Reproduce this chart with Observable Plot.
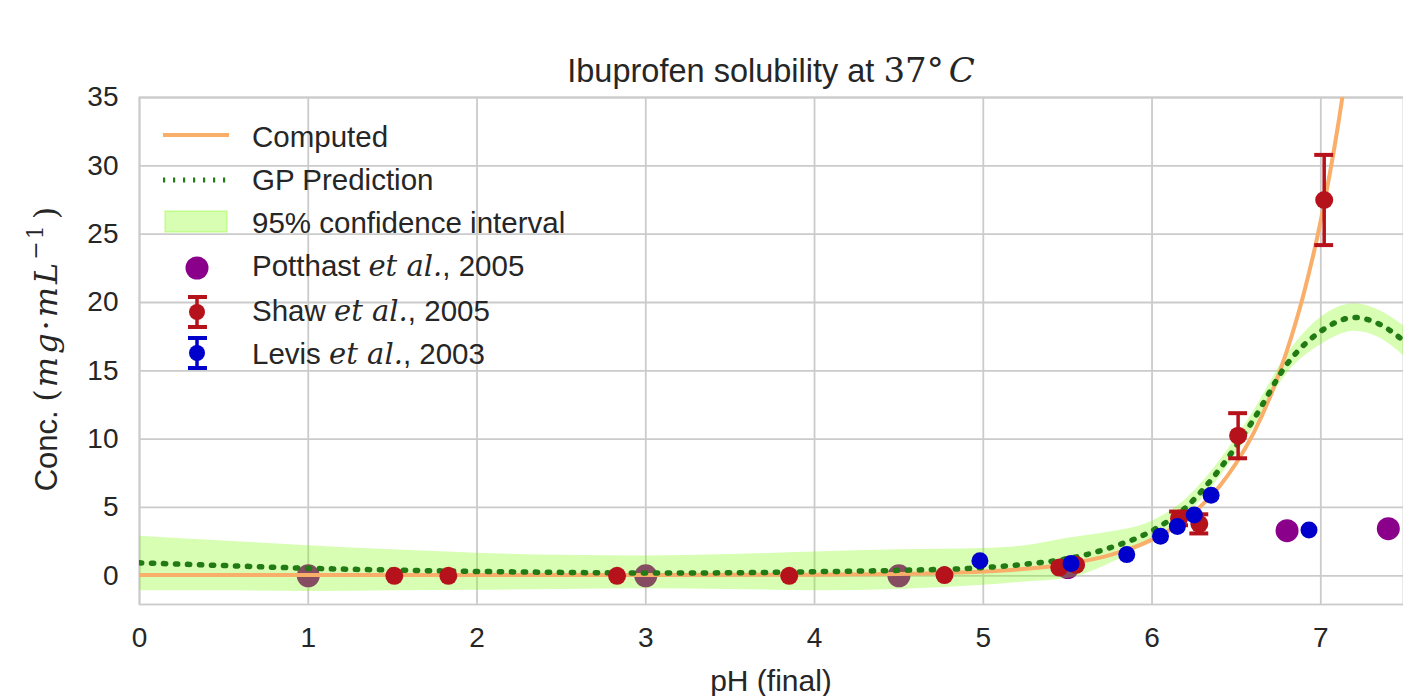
<!DOCTYPE html>
<html>
<head>
<meta charset="utf-8">
<script src="https://cdn.jsdelivr.net/npm/d3@7"></script>
<script src="https://cdn.jsdelivr.net/npm/@observablehq/plot@0.6"></script>
<style>
  html, body { margin: 0; padding: 0; background: #fff; overflow: hidden; }
  #chart { width: 1403px; height: 696px; }
</style>
</head>
<body>
<div id="chart"></div>
<script>
// ---------- data ----------
const xTicks = [0, 1, 2, 3, 4, 5, 6, 7];
const yTicks = [0, 5, 10, 15, 20, 25, 30, 35];
const xDomain = [0, 7.49];
const yDomain = [-2.1, 35];

// Computed solubility curve
const computedPH   = [0, 1, 2, 3, 4, 4.5, 5.0, 5.25, 5.5, 5.75, 6.0, 6.1, 6.2, 6.3, 6.4, 6.5, 6.6, 6.7, 6.8, 6.9, 7.0, 7.1, 7.2];
const computedConc = [0.05, 0.05, 0.05, 0.05, 0.08, 0.13, 0.31, 0.51, 0.87, 1.51, 2.65, 3.32, 4.17, 5.23, 6.56, 8.27, 10.4, 13.1, 16.5, 20.7, 26.0, 32.8, 41.3];

// GP prediction and 95% confidence interval
const gpPH    = [0, 0.5, 1, 1.5, 2, 2.5, 3, 3.5, 4, 4.5, 5, 5.25, 5.5, 5.75, 6.0, 6.2, 6.4, 6.6, 6.8, 7.0, 7.2, 7.35, 7.5];
const gpMean  = [0.95, 0.75, 0.55, 0.42, 0.32, 0.25, 0.2, 0.22, 0.3, 0.4, 0.6, 0.85, 1.25, 2.05, 3.3, 5.0, 7.8, 11.4, 15.5, 17.9, 18.9, 18.4, 17.1];
const gpLower = [-1.1, -1.1, -1.15, -1.1, -1.05, -1.0, -0.95, -1.0, -1.1, -1.0, -0.7, -0.45, -0.2, 0.9, 2.6, 4.4, 7.2, 10.8, 14.8, 16.9, 17.9, 17.4, 16.0];
const gpUpper = [2.9, 2.55, 2.2, 1.9, 1.65, 1.5, 1.45, 1.55, 1.75, 1.9, 2.0, 2.2, 2.75, 3.2, 4.0, 5.6, 8.4, 12.0, 16.2, 18.9, 19.9, 19.4, 18.2];

// Potthast et al., 2005
const potthastPH   = [1.0, 3.0, 4.5, 5.5, 6.8, 7.4];
const potthastConc = [0, 0, 0, 0.6, 3.3, 3.45];

// Shaw et al., 2005 (with error)
const shawPH   = [1.51, 1.83, 2.83, 3.85, 4.77, 5.45, 5.55, 6.16, 6.28, 6.51, 7.02];
const shawConc = [0, 0, 0, 0, 0.05, 0.6, 0.8, 4.2, 3.8, 10.25, 27.5];
const shawErr  = [0, 0, 0, 0, 0, 0, 0, 0.5, 0.7, 1.65, 3.3];

// Levis et al., 2003
const levisPH   = [4.98, 5.52, 5.85, 6.05, 6.15, 6.25, 6.35, 6.93];
const levisConc = [1.1, 0.9, 1.55, 2.9, 3.6, 4.45, 5.9, 3.35];

// ---------- styles ----------
const gridColor = "#cbcbcb";
const orange = "#f9ae6a";
const green = "#217a13";
const bandColor = "#7cfc00";
const purple = "#8b008b";
const red = "#b5121b";
const blue = "#0000cc";
const textColor = "#262626";

// ---------- tables ----------
const computed = computedPH.map((x, i) => ({x, y: computedConc[i]}));
const gp = gpPH.map((x, i) => ({x, m: gpMean[i], lo: gpLower[i], hi: gpUpper[i]}));
const potthast = potthastPH.map((x, i) => ({x, y: potthastConc[i]}));
const shaw = shawPH.map((x, i) => ({x, y: shawConc[i], lo: shawConc[i] - shawErr[i], hi: shawConc[i] + shawErr[i], err: shawErr[i]}));
const shawBars = shaw.filter(d => d.err > 0);
const levis = levisPH.map((x, i) => ({x, y: levisConc[i]}));
const capHalf = 0.056;

const chart = Plot.plot({
  width: 1403,
  height: 696,
  marginTop: 97,
  marginBottom: 92,
  marginLeft: 139,
  marginRight: 0,
  style: {fontFamily: "'Liberation Sans', Arial, sans-serif", fontSize: "28px", color: textColor, background: "white"},
  x: {domain: xDomain, ticks: xTicks, tickSize: 0, tickPadding: 23, label: null},
  y: {domain: yDomain, ticks: yTicks, tickSize: 0, tickPadding: 21, label: null},
  marks: [
    Plot.ruleX(xTicks, {stroke: gridColor, strokeWidth: 1.8}),
    Plot.ruleY(yTicks, {stroke: gridColor, strokeWidth: 1.8}),
    Plot.frame({stroke: gridColor, strokeWidth: 1.8}),
    Plot.dot(potthast, {x: "x", y: "y", r: 11.5, fill: purple}),
    Plot.areaY(gp, {x: "x", y1: "lo", y2: "hi", fill: bandColor, fillOpacity: 0.3, curve: "monotone-x", clip: true}),
    Plot.line(computed, {x: "x", y: "y", stroke: orange, strokeWidth: 4, curve: "monotone-x", clip: true}),
    Plot.line(gp, {x: "x", y: "m", stroke: green, strokeWidth: 5.5, strokeDasharray: "2.2,9.8", curve: "monotone-x", clip: true}),
    Plot.ruleX(shawBars, {x: "x", y1: "lo", y2: "hi", stroke: red, strokeWidth: 3.5}),
    Plot.ruleY(shawBars, {y: "hi", x1: d => d.x - capHalf, x2: d => d.x + capHalf, stroke: red, strokeWidth: 4}),
    Plot.ruleY(shawBars, {y: "lo", x1: d => d.x - capHalf, x2: d => d.x + capHalf, stroke: red, strokeWidth: 4}),
    Plot.dot(shaw, {x: "x", y: "y", r: 9, fill: red}),
    Plot.dot(levis, {x: "x", y: "y", r: 8.5, fill: blue})
  ]
});
document.getElementById("chart").appendChild(chart);

// ---------- titles, labels, legend ----------
const svg = d3.select(chart);
const sans = "'Liberation Sans', Arial, sans-serif";
const serif = "'DejaVu Serif', serif";

// Title
const title = svg.append("text")
  .attr("x", 771).attr("y", 82).attr("text-anchor", "middle")
  .attr("fill", textColor).style("font-family", sans).style("font-size", "32.5px");
title.append("tspan").text("Ibuprofen solubility at ");
title.append("tspan").style("font-family", serif).style("font-size", "34px").text("37°");
title.append("tspan").style("font-family", serif).style("font-size", "34px").style("font-style", "italic").attr("dx", 5).text("C");

// X label
svg.append("text")
  .attr("x", 771).attr("y", 691).attr("text-anchor", "middle")
  .attr("fill", textColor).style("font-family", sans).style("font-size", "30px")
  .text("pH (final)");

// Y label
const yl = svg.append("text")
  .attr("transform", "translate(57,349) rotate(-90)").attr("text-anchor", "middle")
  .attr("fill", textColor).style("font-family", sans).style("font-size", "31px");
yl.append("tspan").text("Conc. ");
yl.append("tspan").style("font-family", serif).style("font-size", "32px").style("letter-spacing", "2px").text("(");
yl.append("tspan").style("font-family", serif).style("font-size", "32px").style("font-style", "italic").style("letter-spacing", "3px").text("mg");
yl.append("tspan").style("font-family", serif).style("font-size", "32px").style("letter-spacing", "3px").text("·");
yl.append("tspan").style("font-family", serif).style("font-size", "32px").style("font-style", "italic").style("letter-spacing", "3px").text("mL");
yl.append("tspan").style("font-family", serif).style("font-size", "22px").style("letter-spacing", "2px").attr("dy", -14).text("−1");
yl.append("tspan").style("font-family", serif).style("font-size", "32px").attr("dx", 4).attr("dy", 14).text(")");

// Legend
const lg = svg.append("g").attr("text-anchor", "start");
const lx = 252;
lg.append("line").attr("x1", 163).attr("x2", 229).attr("y1", 135).attr("y2", 135)
  .attr("stroke", orange).attr("stroke-width", 4);
lg.append("line").attr("x1", 163).attr("x2", 229).attr("y1", 180).attr("y2", 180)
  .attr("stroke", green).attr("stroke-width", 5).attr("stroke-dasharray", "2.2,7.8");
lg.append("rect").attr("x", 165).attr("y", 211).attr("width", 62).attr("height", 21)
  .attr("fill", bandColor).attr("fill-opacity", 0.3).attr("stroke", bandColor).attr("stroke-opacity", 0.3).attr("stroke-width", 1.5);
lg.append("circle").attr("cx", 197).attr("cy", 268).attr("r", 11.5).attr("fill", purple);
function errGlyph(cy, color) {
  lg.append("line").attr("x1", 197).attr("x2", 197).attr("y1", cy - 15).attr("y2", cy + 15).attr("stroke", color).attr("stroke-width", 3.5);
  lg.append("line").attr("x1", 188).attr("x2", 207).attr("y1", cy - 15).attr("y2", cy - 15).attr("stroke", color).attr("stroke-width", 4);
  lg.append("line").attr("x1", 188).attr("x2", 207).attr("y1", cy + 15).attr("y2", cy + 15).attr("stroke", color).attr("stroke-width", 4);
  lg.append("circle").attr("cx", 197).attr("cy", cy).attr("r", 8).attr("fill", color);
}
errGlyph(312, red);
errGlyph(353, blue);

function legText(y, before, ital, after) {
  const t = lg.append("text").attr("x", lx).attr("y", y).attr("fill", textColor).attr("text-anchor", "start")
    .style("font-family", sans).style("font-size", "29.5px");
  t.append("tspan").text(before);
  if (ital) {
    t.append("tspan").style("font-family", serif).style("font-style", "italic").style("font-size", "29px").text(ital);
    t.append("tspan").text(after);
  }
}
legText(147, "Computed");
legText(190, "GP Prediction");
legText(233, "95% confidence interval");
legText(276, "Potthast ", "et al.", ", 2005");
legText(321, "Shaw ", "et al.", ", 2005");
legText(364, "Levis ", "et al.", ", 2003");
</script>
</body>
</html>
